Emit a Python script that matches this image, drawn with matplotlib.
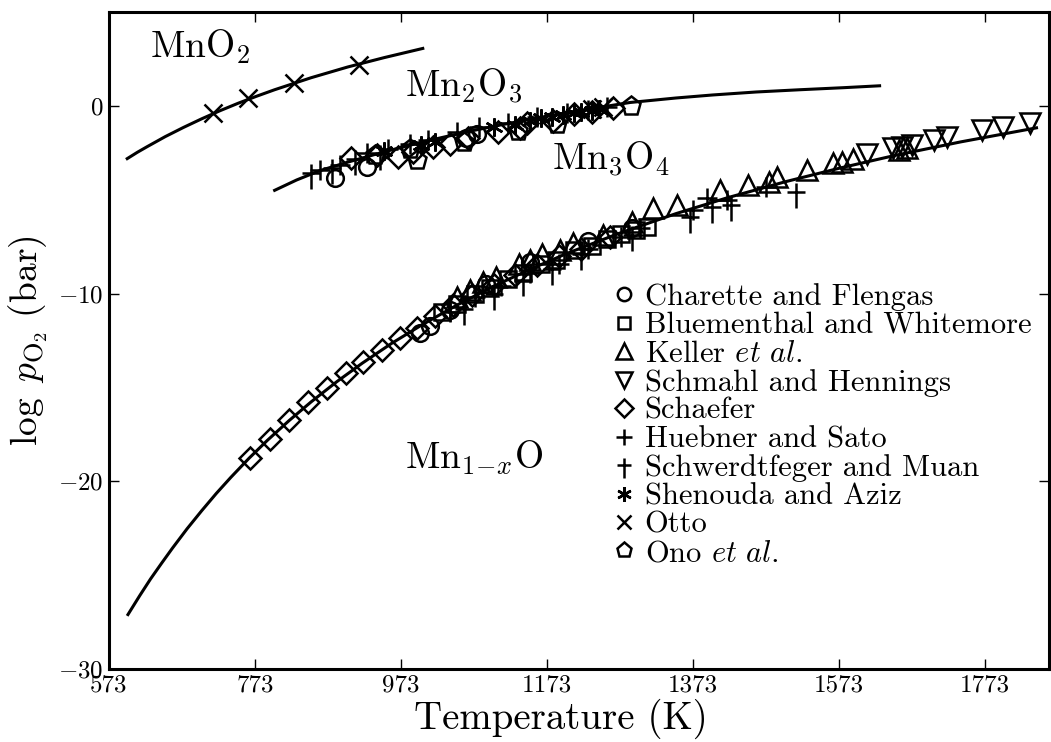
import numpy as np
import matplotlib
matplotlib.use('Agg')
import matplotlib.pyplot as plt
from matplotlib.path import Path

plt.rcParams['font.family'] = 'serif'
plt.rcParams['font.serif'] = ['cmr10', 'DejaVu Serif']
plt.rcParams['mathtext.fontset'] = 'cm'
plt.rcParams['axes.unicode_minus'] = False

# fitted lines (T in K, log pO2 in bar)
T_mno2 = [598, 612, 625, 650, 675, 700, 725, 750, 775, 800, 850, 900, 950, 1003]
L_mno2 = [-2.81, -2.47, -2.18, -1.64, -1.15, -0.69, -0.26, 0.14, 0.51, 0.86, 1.50, 2.07, 2.57, 3.06]

T_mn2o3 = [800, 830, 862, 900, 950, 1000, 1030, 1070, 1109, 1150, 1200, 1250, 1287, 1350, 1400, 1460, 1520, 1580, 1629]
L_mn2o3 = [-4.5, -3.95, -3.45, -3.0, -2.45, -1.95, -1.68, -1.33, -1.02, -0.72, -0.36, -0.05, 0.18, 0.42, 0.58, 0.74, 0.86, 0.97, 1.07]

T_mno = [599, 615, 630, 645, 660, 680, 700, 720, 740, 765, 790, 820, 850, 885, 920, 960, 1000, 1050, 1100, 1150, 1200, 1270, 1350, 1420, 1500, 1575, 1650, 1740, 1844]
L_mno = [-27.1, -26.1, -25.2, -24.37, -23.56, -22.53, -21.57, -20.65, -19.79, -18.77, -17.82, -16.76, -15.77, -14.7, -13.71, -12.66, -11.71, -10.61, -9.61, -8.71, -7.87, -6.82, -5.74, -4.9, -4.04, -3.31, -2.64, -1.92, -1.17]

# measurements
T_charette = [883, 926, 1062, 1077, 999, 1013, 1040, 1090, 1150, 1230, 1290]
L_charette = [-3.84, -3.25, -1.7, -1.5, -12.1, -11.75, -10.9, -9.5, -8.3, -7.2, -6.5]

T_bluemen = [1030, 1050, 1075, 1095, 1120, 1140, 1165, 1185, 1210, 1235, 1255, 1275, 1295, 1310]
L_bluemen = [-11.0, -10.55, -10.0, -9.7, -9.2, -8.9, -8.45, -8.2, -7.7, -7.45, -7.1, -6.8, -6.6, -6.45]

T_keller = [1050, 1068, 1085, 1104, 1135, 1150, 1167, 1191, 1209, 1250, 1290, 1318, 1351, 1410, 1448, 1478, 1488, 1530, 1565, 1577, 1592, 1656, 1666]
L_keller = [-10.2, -9.8, -9.4, -9.1, -8.4, -8.2, -7.9, -7.67, -7.3, -6.9, -6.2, -5.43, -5.27, -4.48, -4.2, -4.05, -3.78, -3.41, -3.04, -2.98, -2.83, -2.34, -2.24]

T_schmahl = [1612, 1647, 1660, 1674, 1704, 1721, 1769, 1798, 1835]
L_schmahl = [-2.55, -2.25, -2.2, -2.08, -1.81, -1.65, -1.28, -1.1, -0.92]

T_schaefer = [766, 794, 820, 846, 872, 898, 921, 947, 972, 995, 1020, 1045, 1070, 1100, 1130, 1160, 1190, 1220, 1260,
              905, 940, 969, 989, 1017, 1040, 1065, 1106, 1136, 1146, 1181, 1210, 1235, 1263]
L_schaefer = [-18.75, -17.74, -16.73, -15.77, -15.02, -14.22, -13.64, -13.0, -12.36, -11.83, -11.2, -10.6, -10.1, -9.55, -9.0, -8.5, -8.0, -7.6, -7.0,
              -2.8, -2.6, -2.7, -2.45, -2.2, -2.05, -1.7, -1.38, -1.2, -0.9, -0.8, -0.45, -0.3, -0.1]

T_huebner = [862, 889, 926, 955, 985, 1010, 1050, 1080, 1120, 1160, 1200, 1230, 1255,
             1040, 1075, 1110, 1150, 1190, 1230, 1275, 1300, 1373, 1392, 1420, 1474]
L_huebner = [-3.41, -3.14, -2.5, -2.3, -2.05, -1.8, -1.4, -1.1, -0.9, -0.6, -0.4, -0.2, -0.05,
             -11.0, -10.2, -9.6, -8.9, -8.4, -7.6, -7.0, -6.5, -5.54, -4.9, -5.0, -4.3]

T_schwerdt = [850, 878, 910, 945, 1060, 1100, 1140, 1180, 1220, 1290, 1369, 1400, 1425, 1515]
L_schwerdt = [-3.6, -3.3, -2.85, -2.55, -10.8, -10.0, -9.3, -8.7, -7.9, -6.9, -5.9, -5.4, -5.3, -4.6]

T_shenouda = [950, 1000, 1020, 1100, 1130, 1150, 1165, 1180, 1195, 1210, 1220, 1235, 1245]
L_shenouda = [-2.4, -2.1, -1.9, -1.1, -1.0, -0.8, -0.65, -0.6, -0.5, -0.4, -0.35, -0.25, -0.15]

T_otto = [715, 763, 827, 915, 1235, 1250]
L_otto = [-0.38, 0.43, 1.24, 2.2, -0.15, -0.05]

T_ono = [937, 985, 995, 1060, 1133, 1187, 1289]
L_ono = [-2.6, -2.3, -2.9, -1.9, -1.35, -0.95, 0.0]

xticks = [573, 773, 973, 1173, 1373, 1573, 1773]
yticks = [-30, -20, -10, 0]

# dagger-shaped marker: short top arm, long bottom arm
dagger = Path([(0, 0.7), (0, -1.2), (-0.7, 0), (0.7, 0)],
              [Path.MOVETO, Path.LINETO, Path.MOVETO, Path.LINETO])

fig = plt.figure(figsize=(10.51, 7.42), dpi=100)
ax = fig.add_axes([0.1037, 0.0984, 0.8943, 0.8854])

for T, L in [(T_mno2, L_mno2), (T_mn2o3, L_mn2o3), (T_mno, L_mno)]:
    ax.plot(T, L, 'k-', lw=2.2, zorder=3)

series = [
    (T_charette, L_charette, 'o', 12, 'Charette and Flengas'),
    (T_bluemen, L_bluemen, 's', 11, 'Bluementhal and Whitemore'),
    (T_keller, L_keller, '^', 14, r'Keller $\mathit{et\ al.}$'),
    (T_schmahl, L_schmahl, 'v', 14, 'Schmahl and Hennings'),
    (T_schaefer, L_schaefer, 'D', 11, 'Schaefer'),
    (T_huebner, L_huebner, '+', 14, 'Huebner and Sato'),
    (T_schwerdt, L_schwerdt, dagger, 23, 'Schwerdtfeger and Muan'),
    (T_shenouda, L_shenouda, (6, 2, 0), 13, 'Shenouda and Aziz'),
    (T_otto, L_otto, 'x', 13, 'Otto'),
    (T_ono, L_ono, 'p', 14, r'Ono $\mathit{et\ al.}$'),
]
for T, L, m, ms, lab in series:
    ax.plot(T, L, linestyle='none', marker=m, ms=ms, mfc='none', mec='k',
            mew=1.8, label=lab, zorder=4)

ax.text(629, 2.56, r'$\mathrm{MnO_2}$', fontsize=27, va='baseline')
ax.text(978, 0.45, r'$\mathrm{Mn_2O_3}$', fontsize=27, va='baseline')
ax.text(1180, -3.4, r'$\mathrm{Mn_3O_4}$', fontsize=27, va='baseline')
ax.text(978, -19.3, r'$\mathrm{Mn}_{1\!-\!x}\mathrm{O}$', fontsize=27, va='baseline')

ax.set_xlim(573, 1861)
ax.set_ylim(-30, 5)
ax.set_xticks(xticks)
ax.set_xticklabels([str(t) for t in xticks], fontsize=18)
ax.set_yticks(yticks)
ax.set_yticklabels([r'$%d$' % t for t in yticks], fontsize=18)
ax.tick_params(direction='in', length=7, width=1, top=True, right=True, pad=4)
for sp in ax.spines.values():
    sp.set_linewidth(2.2)

ax.set_xlabel('Temperature (K)', fontsize=28)
ax.xaxis.set_label_coords(0.481, -0.045, transform=ax.transAxes)
ax.xaxis.label.set_va('top')
ax.set_ylabel(r'$\log\ p_{\mathrm{O}_2}\ \mathrm{(bar)}$', fontsize=27, labelpad=6)

leg = ax.legend(loc='upper left', bbox_to_anchor=(0.513, 0.62), frameon=False,
                fontsize=22, markerscale=0.8, handlelength=0.75, handletextpad=0.3,
                labelspacing=0.03, borderpad=0.2)

plt.savefig('out.png', dpi=100)
